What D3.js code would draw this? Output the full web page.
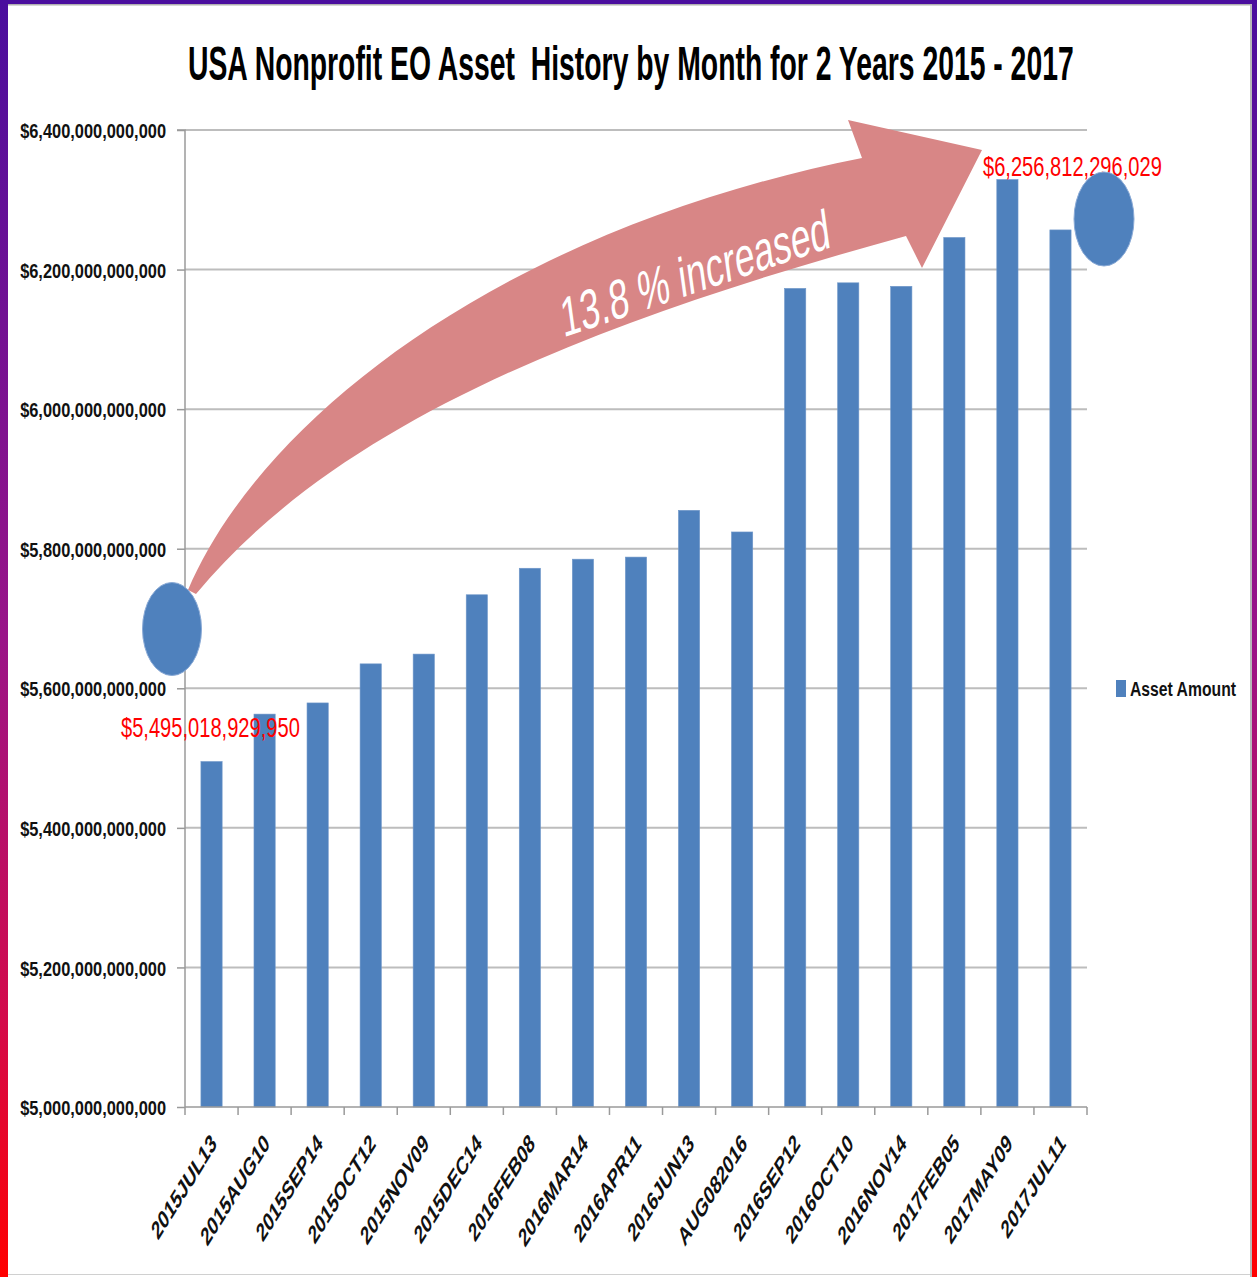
<!DOCTYPE html>
<html><head><meta charset="utf-8">
<script src="https://cdn.jsdelivr.net/npm/d3@7"></script>
<style>html,body{margin:0;padding:0;background:#fff;overflow:hidden} svg{display:block}</style>
</head><body>
<script>
// ---------- data ----------
const categories = ["2015JUL13","2015AUG10","2015SEP14","2015OCT12","2015NOV09","2015DEC14","2016FEB08","2016MAR14","2016APR11","2016JUN13","AUG082016","2016SEP12","2016OCT10","2016NOV14","2017FEB05","2017MAY09","2017JUL11"];
const assetValues = [5495018929950, 5563e9, 5579e9, 5635e9, 5649e9, 5734e9, 5772e9, 5785e9, 5788e9, 5855e9, 5824e9, 6173e9, 6181e9, 6176e9, 6246e9, 6329e9, 6256812296029];
const yTickValues = [5.0e12, 5.2e12, 5.4e12, 5.6e12, 5.8e12, 6.0e12, 6.2e12, 6.4e12];
const seriesName = "Asset Amount";
const titleText = "USA Nonprofit EO Asset  History by Month for 2 Years 2015 - 2017";
const arrowLabel = "13.8 % increased";
const startLabel = "$5,495,018,929,950";
const endLabel = "$6,256,812,296,029";

// ---------- layout ----------
const W = 1257, H = 1277;
const plot = {left: 185, right: 1087, top: 130, bottom: 1107};
const barColor = "#4f81bd";
const font = "'Liberation Sans', Arial, sans-serif";

const svg = d3.select("body").append("svg").attr("width", W).attr("height", H);
const defs = svg.append("defs");
const grad = defs.append("linearGradient").attr("id","frameGrad").attr("x1",0).attr("y1",0).attr("x2",0).attr("y2",1);
[[0,"#4a0e9e"],[0.5,"#9a1488"],[0.8,"#d40a4a"],[1,"#ff0000"]].forEach(([o,c])=>grad.append("stop").attr("offset",o).attr("stop-color",c));

// horizontally squeeze a text to a target width (the reference is a horizontally compressed image)
function squeeze(sel, target) {
  sel.each(function() {
    const t = d3.select(this);
    const x0 = +t.attr("x") || 0, y0 = +t.attr("y") || 0;
    const w = this.getComputedTextLength();
    t.attr("x", 0).attr("y", 0)
     .attr("transform", `translate(${x0},${y0}) scale(${target / w},1)`);
  });
}

const x = d3.scaleBand().domain(categories).range([plot.left, plot.right]).paddingInner(0.6).paddingOuter(0.3);
const y = d3.scaleLinear().domain([5.0e12, 6.4e12]).range([plot.bottom, plot.top]);
const fmt = v => "$" + d3.format(",.0f")(v);

// gridlines
svg.append("g").selectAll("line").data(yTickValues.slice(1)).join("line")
  .attr("x1", plot.left).attr("x2", plot.right)
  .attr("y1", d => y(d)).attr("y2", d => y(d))
  .attr("stroke", "#bdbdbd").attr("stroke-width", 2);

// bars
svg.append("g").selectAll("rect").data(assetValues).join("rect")
  .attr("x", (d,i) => x(categories[i]))
  .attr("width", x.bandwidth())
  .attr("y", d => y(d))
  .attr("height", d => y.range()[0] - y(d))
  .attr("fill", barColor).attr("stroke", "#6f97c9").attr("stroke-width", 0.6);

// y axis
const yAxis = svg.append("g").attr("transform", `translate(${plot.left},0)`)
  .call(d3.axisLeft(y).tickValues(yTickValues).tickFormat(fmt).tickSize(8).tickPadding(20));
yAxis.select(".domain").attr("stroke", "#9a9a9a").attr("stroke-width", 1.5).attr("d", `M-8,${plot.top}H0V${plot.bottom}`);
yAxis.selectAll(".tick line").attr("stroke", "#9a9a9a").attr("stroke-width", 1.5);
const yLabels = yAxis.selectAll(".tick text")
  .attr("font-family", font).attr("font-weight", "bold").attr("font-size", 21)
  .attr("fill", "#111").attr("x", -19).attr("dy", "0.36em");
squeeze(yLabels, 146);

// x axis
const xAxis = svg.append("g").attr("transform", `translate(0,${plot.bottom})`);
xAxis.append("line").attr("x1", plot.left).attr("x2", plot.right).attr("stroke", "#9a9a9a").attr("stroke-width", 1.5);
const boundaries = categories.map(c => x(c) - x.step()*x.paddingOuter()).concat([plot.right]);
xAxis.selectAll("line.tk").data(boundaries).join("line").attr("class","tk")
  .attr("x1", d => d).attr("x2", d => d).attr("y1", 0).attr("y2", 8)
  .attr("stroke", "#9a9a9a").attr("stroke-width", 1.5);
xAxis.selectAll("text").data(categories).join("text")
  .attr("transform", d => `translate(${x(d) + x.bandwidth()/2 + 6},${38}) scale(0.62,1) rotate(-45)`)
  .attr("text-anchor", "end")
  .attr("font-family", font).attr("font-weight", "bold").attr("font-size", 26).attr("fill", "#111")
  .text(d => d);

// title
const title = svg.append("text").attr("x", 188).attr("y", 80)
  .attr("font-family", font).attr("font-weight", "bold").attr("font-size", 49)
  .attr("fill", "#000").style("white-space", "pre")
  .text(titleText);
squeeze(title, 886);

// legend
const lg = svg.append("g");
lg.append("rect").attr("x", 1116).attr("y", 680).attr("width", 10).attr("height", 17).attr("fill", barColor);
const lgText = lg.append("text").attr("x", 1130).attr("y", 696)
  .attr("font-family", font).attr("font-weight", "bold").attr("font-size", 21).attr("fill", "#111")
  .text(seriesName);
squeeze(lgText, 106);

// curved arrow
svg.append("path")
  .attr("d", "M188,590 C260,420 500,230 862,158 L848,120 L982,150 L922,268 L906,236 C600,320 340,420 196,594 Z")
  .attr("fill", "#d88686");
const arrowText = svg.append("text")
  .attr("text-anchor", "middle").attr("dy", "0.35em")
  .attr("font-family", font).attr("font-size", 56).attr("fill", "#fff")
  .text(arrowLabel);
{
  const w = arrowText.node().getComputedTextLength();
  arrowText.attr("transform", `translate(695,273) scale(0.64,1) rotate(-12.2) scale(${429 / w},1)`);
}

// red value labels
const lab1 = svg.append("text").attr("x", 121).attr("y", 737)
  .attr("font-family", font).attr("font-size", 28).attr("fill", "#ff0000").text(startLabel);
const lab2 = svg.append("text").attr("x", 983).attr("y", 176)
  .attr("font-family", font).attr("font-size", 28).attr("fill", "#ff0000").text(endLabel);
squeeze(lab1, 179);
squeeze(lab2, 179);

// circles
svg.append("ellipse").attr("cx", 172).attr("cy", 629).attr("rx", 29.5).attr("ry", 46.5)
  .attr("fill", barColor).attr("stroke", "#8aaad6").attr("stroke-width", 1);
svg.append("ellipse").attr("cx", 1104).attr("cy", 219).attr("rx", 30).attr("ry", 47)
  .attr("fill", barColor).attr("stroke", "#8aaad6").attr("stroke-width", 1);

// frame
svg.append("rect").attr("x", 0).attr("y", 0).attr("width", 8).attr("height", H).attr("fill", "url(#frameGrad)");
svg.append("rect").attr("x", 0).attr("y", 0).attr("width", W).attr("height", 4).attr("fill", "#4a0e9e");
svg.append("rect").attr("x", 8).attr("y", 4).attr("width", W-8).attr("height", 1.5).attr("fill", "#b0b0b0");
svg.append("rect").attr("x", 1250).attr("y", 4).attr("width", 2).attr("height", H).attr("fill", "#b8b8b8");
svg.append("rect").attr("x", 1252).attr("y", 0).attr("width", 5).attr("height", H).attr("fill", "url(#frameGrad)");
svg.append("rect").attr("x", 8).attr("y", 1274).attr("width", 1242).attr("height", 1).attr("fill", "#d0d0d0");
</script>
</body></html>
